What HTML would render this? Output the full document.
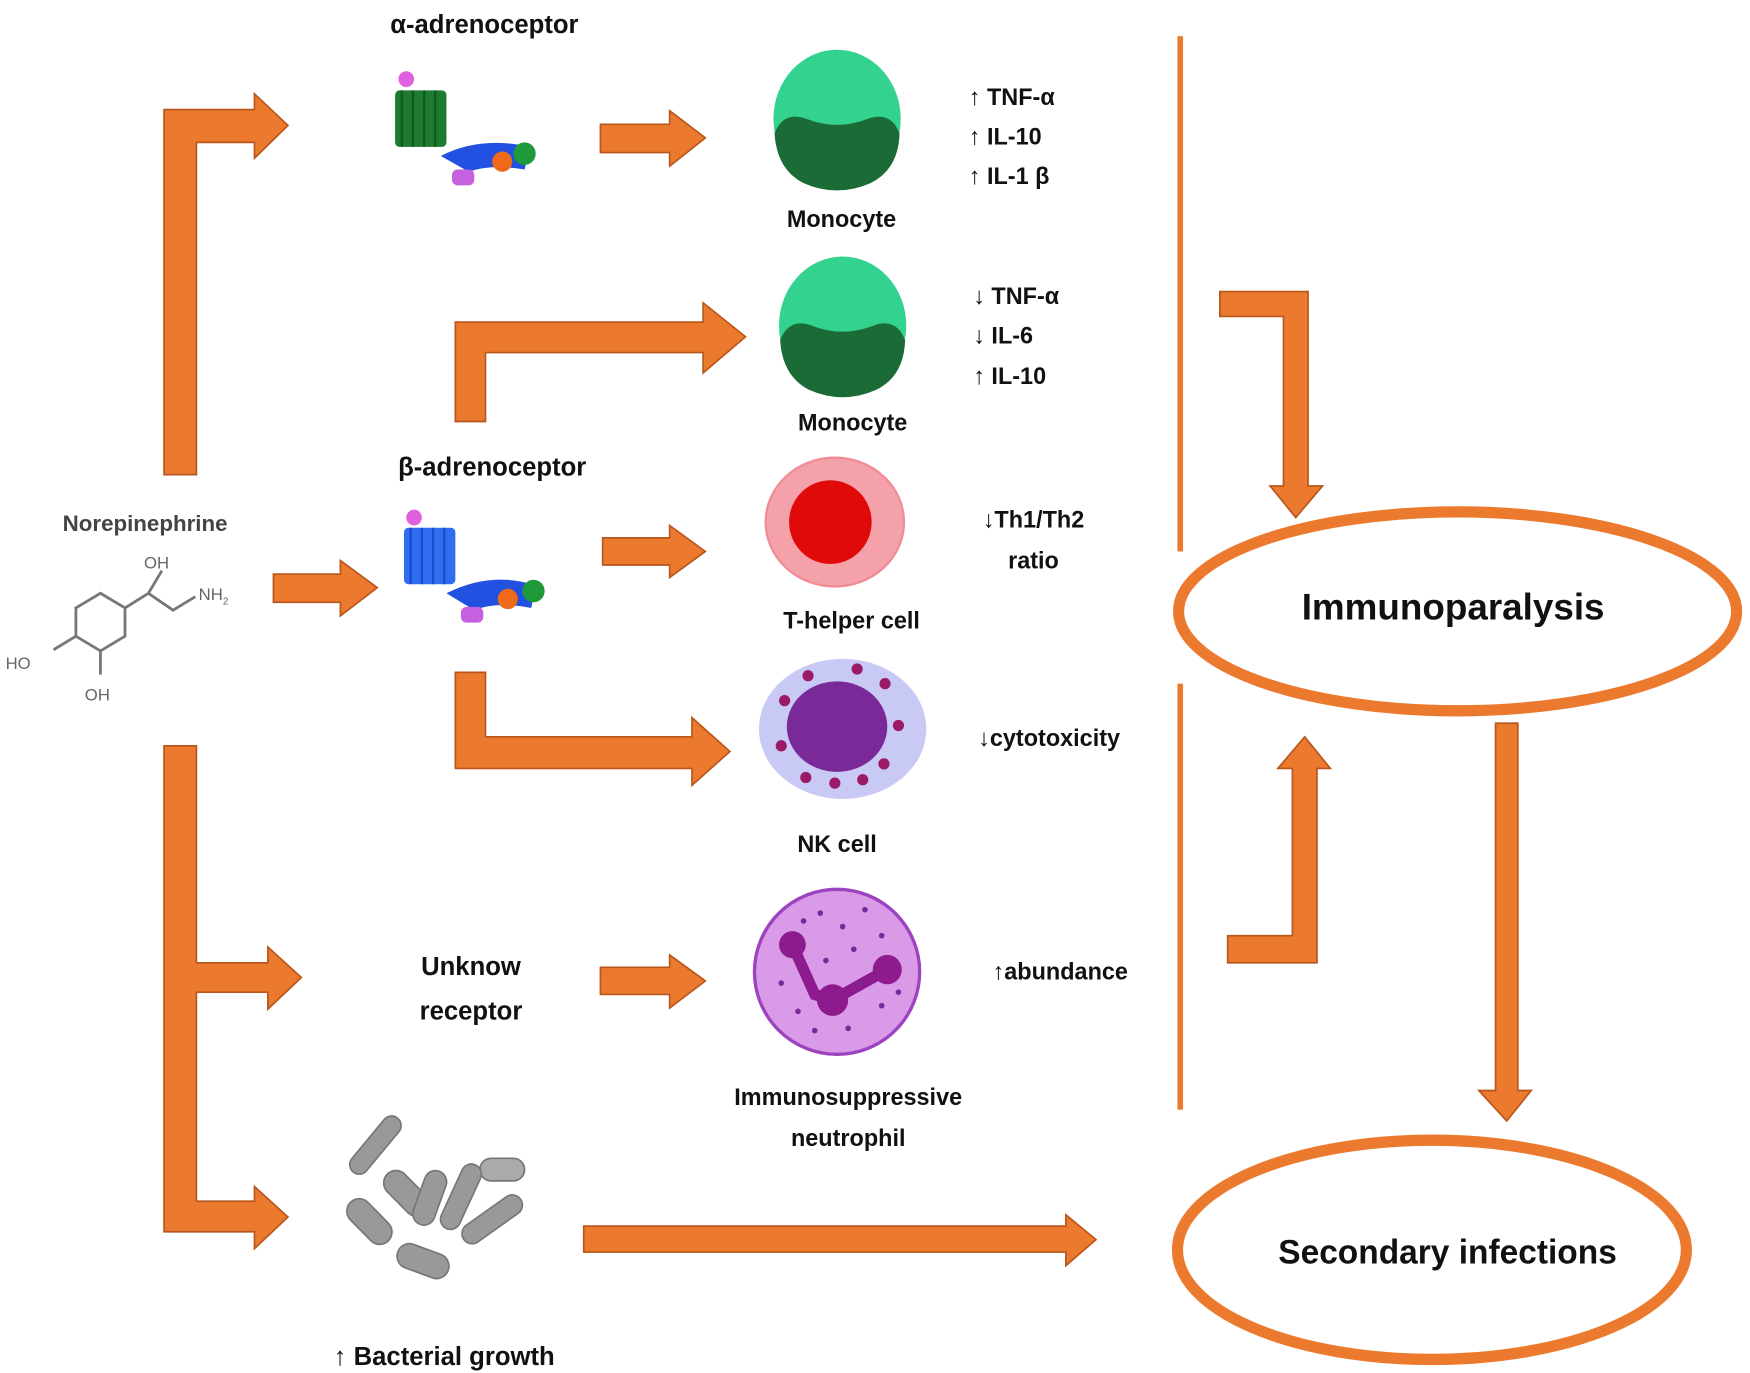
<!DOCTYPE html>
<html><head><meta charset="utf-8"><style>
html,body{margin:0;padding:0;background:#fff;}
svg{display:block;}
text{font-family:"Liberation Sans",sans-serif;font-weight:bold;fill:#111;}
</style></head><body>
<svg width="1750" height="1373" viewBox="0 0 1568 1215" preserveAspectRatio="none" xmlns="http://www.w3.org/2000/svg">
<defs>
<style>.ar{fill:#EC7A2E;stroke:#B8561C;stroke-width:1.5;stroke-linejoin:miter}</style>
</defs>
<rect width="1568" height="1215" fill="#fff"/>

<path class="ar" d="M147,420 L147,97 L228,97 L228,83 L258,111 L228,140 L228,126 L176,126 L176,420 Z"/>
<path class="ar" d="M538,110 L600,110 L600,98 L632,122 L600,147 L600,135 L538,135 Z"/>
<path class="ar" d="M408,373 L408,285 L630,285 L630,268 L668,298 L630,330 L630,312 L435,312 L435,373 Z"/>
<path class="ar" d="M245,508 L305,508 L305,496 L338,520 L305,545 L305,533 L245,533 Z"/>
<path class="ar" d="M540,476 L600,476 L600,465 L632,488 L600,511 L600,500 L540,500 Z"/>
<path class="ar" d="M408,595 L435,595 L435,652 L620,652 L620,635 L654,665 L620,695 L620,680 L408,680 Z"/>
<path class="ar" d="M147,660 L176,660 L176,852 L240,852 L240,838 L270,865 L240,893 L240,878 L176,878 L176,1063 L228,1063 L228,1050 L258,1077 L228,1105 L228,1090 L147,1090 Z"/>
<path class="ar" d="M538,856 L600,856 L600,845 L632,868 L600,892 L600,880 L538,880 Z"/>
<path class="ar" d="M523,1085 L955,1085 L955,1075 L982,1097 L955,1120 L955,1108 L523,1108 Z"/>
<path class="ar" d="M1093,258 L1172,258 L1172,430 L1185,430 L1161,458 L1138,430 L1150,430 L1150,280 L1093,280 Z"/>
<path class="ar" d="M1100,852 L1180,852 L1180,680 L1192,680 L1169,652 L1145,680 L1158,680 L1158,828 L1100,828 Z"/>
<path class="ar" d="M1340,640 L1360,640 L1360,965 L1372,965 L1350,992 L1325,965 L1340,965 Z"/>

<rect x="1055" y="32" width="5" height="456" fill="#EC7A2E"/>
<rect x="1055" y="605" width="5" height="377" fill="#EC7A2E"/>

<ellipse cx="1306" cy="541" rx="250" ry="88" fill="none" stroke="#EC7A2E" stroke-width="10"/>
<ellipse cx="1283" cy="1106" rx="228" ry="97" fill="none" stroke="#EC7A2E" stroke-width="10"/>
<text x="1302" y="548" font-size="33" text-anchor="middle">Immunoparalysis</text>
<text x="1297" y="1118" font-size="30" text-anchor="middle">Secondary infections</text>

<g>
<ellipse cx="750" cy="105" rx="57" ry="61" fill="#33D28F"/>
<path d="M694,118 Q702,98 722,105 Q750,116 778,105 Q798,98 806,118 Q805,150 780,162 Q750,175 720,162 Q696,150 694,118 Z" fill="#1A6B36"/>
</g>
<g>
<ellipse cx="755" cy="288" rx="57" ry="61" fill="#33D28F"/>
<path d="M699,301 Q707,281 727,288 Q755,299 783,288 Q803,281 811,301 Q810,333 785,345 Q755,358 725,345 Q701,333 699,301 Z" fill="#1A6B36"/>
</g>
<ellipse cx="748" cy="462" rx="62" ry="57" fill="#F4A1A9" stroke="#F08C96" stroke-width="2"/>
<circle cx="744" cy="462" r="37" fill="#E10A0A"/>
<ellipse cx="755" cy="645" rx="75" ry="62" fill="#C9C9F5"/>
<ellipse cx="750" cy="643" rx="45" ry="40" fill="#7A2A98"/>
<g fill="#9A1A68">
<circle cx="703" cy="620" r="5"/><circle cx="724" cy="598" r="5"/><circle cx="768" cy="592" r="5"/><circle cx="793" cy="605" r="5"/><circle cx="805" cy="642" r="5"/><circle cx="792" cy="676" r="5"/><circle cx="773" cy="690" r="5"/><circle cx="748" cy="693" r="5"/><circle cx="722" cy="688" r="5"/><circle cx="700" cy="660" r="5"/>
</g>
<ellipse cx="750" cy="860" rx="74" ry="73" fill="#D99AE8" stroke="#9C44C0" stroke-width="3"/>
<g fill="#8E1B8E">
<circle cx="710" cy="836" r="12"/><circle cx="746" cy="885" r="14"/><circle cx="795" cy="858" r="13"/>
<path d="M710,836 L730,880 L746,885 L795,858" stroke="#8E1B8E" stroke-width="10" fill="none"/>
</g>
<g fill="#7A2A98">
<circle cx="735" cy="808" r="2.5"/><circle cx="755" cy="820" r="2.5"/><circle cx="775" cy="805" r="2.5"/><circle cx="790" cy="828" r="2.5"/><circle cx="765" cy="840" r="2.5"/><circle cx="740" cy="850" r="2.5"/><circle cx="700" cy="870" r="2.5"/><circle cx="715" cy="895" r="2.5"/><circle cx="770" cy="870" r="2.5"/><circle cx="790" cy="890" r="2.5"/><circle cx="760" cy="910" r="2.5"/><circle cx="730" cy="912" r="2.5"/><circle cx="720" cy="815" r="2.5"/><circle cx="805" cy="878" r="2.5"/>
</g>

<g>
<circle cx="364" cy="70" r="7" fill="#E060E0"/>
<rect x="354" y="80" width="46" height="50" rx="4" fill="#1E7A2E"/>
<path d="M360,80 v50 M370,80 v50 M380,80 v50 M390,80 v50" stroke="#0F5A1E" stroke-width="2"/>
<path d="M395,138 Q430,120 475,130 L470,150 Q440,145 420,152 Z" fill="#2250E0"/>
<circle cx="450" cy="143" r="9" fill="#EE6A1A"/>
<circle cx="470" cy="136" r="10" fill="#1F9A3A"/>
<rect x="405" y="150" width="20" height="14" rx="5" fill="#C560E0"/>
</g>
<g>
<circle cx="371" cy="458" r="7" fill="#E060E0"/>
<rect x="362" y="467" width="46" height="50" rx="4" fill="#2F6EF0"/>
<path d="M368,467 v50 M378,467 v50 M388,467 v50 M398,467 v50" stroke="#1A4EC8" stroke-width="2"/>
<path d="M400,525 Q440,505 480,518 L476,538 Q445,532 425,540 Z" fill="#2250E0"/>
<circle cx="455" cy="530" r="9" fill="#EE6A1A"/>
<circle cx="478" cy="523" r="10" fill="#1F9A3A"/>
<rect x="413" y="537" width="20" height="14" rx="5" fill="#C560E0"/>
</g>

<g stroke="#777" stroke-width="2.5" fill="none">
<path d="M90,525 L112,538 L112,563 L90,576 L68,563 L68,538 Z"/>
<path d="M112,538 L133,525 L145,505 M133,525 L155,540 L175,528"/>
<path d="M68,563 L48,575 M90,576 L90,597"/>
</g>
<text x="129" y="503" font-size="15" style="font-weight:normal;fill:#666">OH</text>
<text x="178" y="531" font-size="15" style="font-weight:normal;fill:#666">NH<tspan font-size="9" dy="4">2</tspan></text>
<text x="5" y="592" font-size="15" style="font-weight:normal;fill:#666">HO</text>
<text x="76" y="620" font-size="15" style="font-weight:normal;fill:#666">OH</text>
<text x="130" y="470" font-size="20" text-anchor="middle" style="fill:#444">Norepinephrine</text>

<g stroke="#777" stroke-width="1.5" fill="#999" >
<rect x="305" y="1005" width="62" height="17" rx="8.5" transform="rotate(-50 336 1013)"/>
<rect x="430" y="1025" width="40" height="20" rx="10" fill="#aaa"/>
<rect x="340" y="1045" width="48" height="22" rx="11" transform="rotate(45 364 1056)"/>
<rect x="360" y="1050" width="50" height="20" rx="10" transform="rotate(-70 385 1060)"/>
<rect x="382" y="1050" width="62" height="18" rx="9" transform="rotate(-65 413 1059)"/>
<rect x="307" y="1070" width="48" height="22" rx="11" transform="rotate(45 331 1081)"/>
<rect x="410" y="1070" width="62" height="18" rx="9" transform="rotate(-35 441 1079)"/>
<rect x="355" y="1105" width="48" height="22" rx="11" transform="rotate(20 379 1116)"/>
</g>

<text x="434" y="29" font-size="23" text-anchor="middle">α-adrenoceptor</text>
<text x="754" y="201" font-size="21" text-anchor="middle">Monocyte</text>
<text x="868" y="93" font-size="21">↑ TNF-α</text>
<text x="868" y="128" font-size="21">↑ IL-10</text>
<text x="868" y="163" font-size="21">↑ IL-1 β</text>
<text x="872" y="269" font-size="21">↓ TNF-α</text>
<text x="872" y="304" font-size="21">↓ IL-6</text>
<text x="872" y="340" font-size="21">↑ IL-10</text>
<text x="764" y="381" font-size="21" text-anchor="middle">Monocyte</text>
<text x="441" y="421" font-size="23" text-anchor="middle">β-adrenoceptor</text>
<text x="926" y="467" font-size="21" text-anchor="middle">↓Th1/Th2</text>
<text x="926" y="503" font-size="21" text-anchor="middle">ratio</text>
<text x="763" y="556" font-size="21" text-anchor="middle">T-helper cell</text>
<text x="940" y="660" font-size="21" text-anchor="middle">↓cytotoxicity</text>
<text x="750" y="754" font-size="21" text-anchor="middle">NK cell</text>
<text x="950" y="867" font-size="21" text-anchor="middle">↑abundance</text>
<text x="422" y="863" font-size="23" text-anchor="middle">Unknow</text>
<text x="422" y="902" font-size="23" text-anchor="middle">receptor</text>
<text x="760" y="978" font-size="21" text-anchor="middle">Immunosuppressive</text>
<text x="760" y="1014" font-size="21" text-anchor="middle">neutrophil</text>
<text x="398" y="1208" font-size="23" text-anchor="middle">↑ Bacterial growth</text>
</svg>
</body></html>
